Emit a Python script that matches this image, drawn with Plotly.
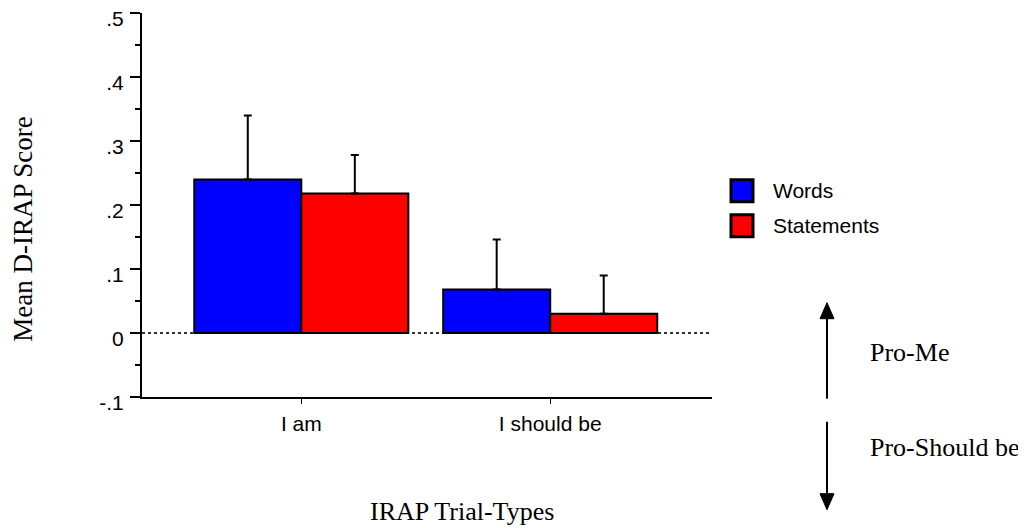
import plotly.graph_objects as go

# ---- data ----
categories = ["I am", "I should be"]
words_mean = [0.240, 0.068]
words_err = [0.100, 0.078]
statements_mean = [0.218, 0.030]
statements_err = [0.060, 0.060]
ytick_vals = [-0.1, 0, 0.1, 0.2, 0.3, 0.4, 0.5]
ytick_text = ["-.1", "0", ".1", ".2", ".3", ".4", ".5"]

# ---- layout geometry (screen pixels; page body has an 8px margin) ----
OFF = 8
FIG_W, FIG_H = 1018, 520
L, R_EDGE = 142, 712
TOP, BOT = 13.3, 397.3


def px(x):
    return (x - L) / (R_EDGE - L)


def py(y):
    return (BOT - y) / (BOT - TOP)


SANS = "Liberation Sans, Arial, sans-serif"
SERIF = "Liberation Serif, Times New Roman, serif"
SANS_SIZE = 21
SERIF_SIZE = 26

fig = go.Figure()
fig.add_trace(go.Bar(
    x=categories, y=words_mean, name="Words",
    marker=dict(color="#0000ff", line=dict(color="black", width=2)),
    error_y=dict(type="data", symmetric=False, array=words_err,
                 arrayminus=[0, 0], color="black", thickness=2, width=4),
))
fig.add_trace(go.Bar(
    x=categories, y=statements_mean, name="Statements",
    marker=dict(color="#ff0000", line=dict(color="black", width=2)),
    error_y=dict(type="data", symmetric=False, array=statements_err,
                 arrayminus=[0, 0], color="black", thickness=2, width=4),
))

shapes = []
# dotted zero line
shapes.append(dict(type="line", xref="paper", yref="y", x0=0, x1=1, y0=0, y1=0,
                   line=dict(color="#333333", width=2, dash="dot"), layer="below"))

# legend boxes
legend_items = [("Words", "#0000ff", 191), ("Statements", "#ff0000", 226)]
annotations = []
for name, col, cy in legend_items:
    shapes.append(dict(type="rect", xref="paper", yref="paper",
                       x0=px(731), x1=px(753), y0=py(cy + 11), y1=py(cy - 11),
                       fillcolor=col, line=dict(color="black", width=3)))
    annotations.append(dict(text=name, xref="paper", yref="paper",
                            x=px(771), y=py(cy), xanchor="left", yanchor="middle",
                            showarrow=False, font=dict(family=SANS, size=SANS_SIZE, color="black")))

# arrows
ax_x = 827
shapes.append(dict(type="line", xref="paper", yref="paper",
                   x0=px(ax_x), x1=px(ax_x), y0=py(399), y1=py(315),
                   line=dict(color="black", width=2)))
shapes.append(dict(type="path", xref="paper", yref="paper",
                   path=f"M {px(ax_x)} {py(303)} L {px(ax_x-7)} {py(319)} L {px(ax_x+7)} {py(319)} Z",
                   fillcolor="black", line=dict(color="black", width=1)))
shapes.append(dict(type="line", xref="paper", yref="paper",
                   x0=px(ax_x), x1=px(ax_x), y0=py(422), y1=py(498),
                   line=dict(color="black", width=2)))
shapes.append(dict(type="path", xref="paper", yref="paper",
                   path=f"M {px(ax_x)} {py(510)} L {px(ax_x-7)} {py(494)} L {px(ax_x+7)} {py(494)} Z",
                   fillcolor="black", line=dict(color="black", width=1)))

annotations.append(dict(text="Pro-Me", xref="paper", yref="paper", x=px(868), y=py(353),
                        xanchor="left", yanchor="middle", showarrow=False,
                        font=dict(family=SERIF, size=SERIF_SIZE, color="black")))
annotations.append(dict(text="Pro-Should be", xref="paper", yref="paper", x=px(868), y=py(448),
                        xanchor="left", yanchor="middle", showarrow=False,
                        font=dict(family=SERIF, size=SERIF_SIZE, color="black")))
annotations.append(dict(text="Mean D-IRAP Score", xref="paper", yref="paper", x=px(23), y=py(230),
                        xanchor="center", yanchor="middle", textangle=-90, showarrow=False,
                        font=dict(family=SERIF, size=27, color="black")))
annotations.append(dict(text="IRAP Trial-Types", xref="paper", yref="paper", x=px(462), y=py(512),
                        xanchor="center", yanchor="middle", showarrow=False,
                        font=dict(family=SERIF, size=SERIF_SIZE, color="black")))

fig.update_layout(
    width=FIG_W, height=FIG_H,
    margin=dict(l=L - OFF, r=FIG_W - (R_EDGE - OFF), t=TOP - OFF, b=FIG_H - (BOT - OFF), pad=0),
    paper_bgcolor="white", plot_bgcolor="white",
    barmode="group", bargap=0.14, bargroupgap=0,
    showlegend=False,
    shapes=shapes, annotations=annotations,
    xaxis=dict(range=[-0.64, 1.65], showline=True, linecolor="black", linewidth=2,
               ticks="outside", ticklen=5, tickwidth=1, tickcolor="black",
               showgrid=False, zeroline=False, automargin=False, ticklabelstandoff=2,
               tickfont=dict(family=SANS, size=SANS_SIZE, color="black")),
    yaxis=dict(range=[-0.1, 0.5], showline=True, linecolor="black", linewidth=2,
               tickvals=ytick_vals, ticktext=ytick_text,
               ticks="outside", ticklen=10, tickwidth=2, tickcolor="black",
               minor=dict(tickvals=[-0.05, 0.05, 0.15, 0.25, 0.35, 0.45],
                          ticks="outside", ticklen=5, tickwidth=2, tickcolor="black"),
               showgrid=False, zeroline=False, automargin=False,
               ticklabelstandoff=2, ticklabelshift=6, ticklabeloverflow="allow",
               tickfont=dict(family=SANS, size=SANS_SIZE, color="black")),
)

fig.write_html("out.html")
